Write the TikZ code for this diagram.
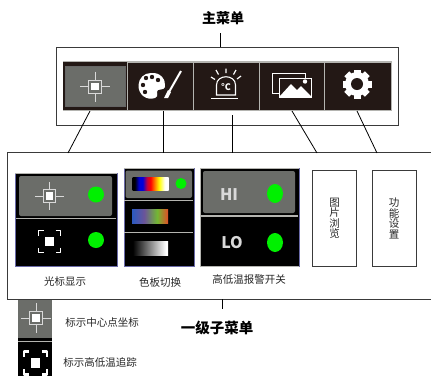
\documentclass[tikz,border=0pt]{standalone}
\usepackage{fontspec}
\setmainfont{Noto Sans CJK SC}
\usetikzlibrary{calc}
\definecolor{ink}{HTML}{231815}
\definecolor{cellgray}{HTML}{6B6D69}
\definecolor{sep}{HTML}{B4B4B0}
\definecolor{edgeblue}{HTML}{6A6AA8}
\definecolor{dotgreen}{HTML}{00F000}
\definecolor{framec}{HTML}{3A3A3A}
\definecolor{specA}{rgb}{0.18,0.35,0.75}
\definecolor{specB}{rgb}{0.42,0.33,0.60}
\definecolor{specC}{rgb}{0.45,0.72,0.20}
\definecolor{specD}{rgb}{0.85,0.33,0.15}
\pgfdeclarehorizontalshading{rainbowbar}{100bp}{color(0bp)=(black);color(28bp)=(black);color(34bp)=(blue!85!black);color(39bp)=(blue!85!black);color(45bp)=(purple);color(50bp)=(red);color(56bp)=(orange);color(62bp)=(yellow);color(70bp)=(white);color(100bp)=(white)}
\pgfdeclarehorizontalshading{specbar}{100bp}{color(0bp)=(specA);color(26bp)=(specA);color(42bp)=(specB);color(60bp)=(specC);color(74bp)=(specD);color(100bp)=(specD)}
\pgfdeclarehorizontalshading{graybar}{100bp}{color(0bp)=(black);color(26bp)=(black);color(72bp)=(white);color(100bp)=(white)}
\tikzset{
  frameline/.style={draw=framec,line width=1pt},
  conn/.style={draw=black,line width=.8pt},
  cell/.style={fill=ink,draw=sep,line width=.9pt},
  blackpanel/.style={fill=black,draw=edgeblue,line width=.9pt},
  divider/.style={draw=sep,line width=1.4pt},
  greendot/.style={fill=dotgreen,draw=none},
  captext/.style={inner sep=0pt,font=\fontsize{10.5}{11}\selectfont,text=black!85},
  headline/.style={inner sep=0pt,font=\fontsize{14}{15}\selectfont\bfseries},
  plainbox/.style={draw=framec,line width=1pt,fill=white,anchor=north west,minimum width=44pt,minimum height=96.5pt,inner sep=0pt,align=center,font=\fontsize{10.5}{10.5}\selectfont,text=black!85},
  iconthin/.style={draw=white!85!black,line width=.8pt},
  hilo/.style={inner sep=0pt,text=white!85!black,font=\fontsize{16}{17}\selectfont\bfseries},
}
\newcommand{\crosshair}[4]{% x,y,scale,box line width
  \begin{scope}[shift={(#1,#2)},scale=#3]
    \draw[iconthin] (-15,0)--(-7,0) (7,0)--(15,0) (0,-15)--(0,-7) (0,7)--(0,15);
    \draw[iconthin,line width=#4] (-6.5,-6.5) rectangle (6.5,6.5);
    \fill[white] (-3.8,-3.8) rectangle (3.8,3.8);
  \end{scope}}
\newcommand{\tracker}[4]{% x,y,scale,line width
  \begin{scope}[shift={(#1,#2)},scale=#3]
    \draw[white,line width=#4,line join=round] (-11,-6)--(-11,-11)--(-6,-11) (6,-11)--(11,-11)--(11,-6) (11,6)--(11,11)--(6,11) (-6,11)--(-11,11)--(-11,6);
    \fill[white] (-4.5,-4.5) rectangle (4.5,4.5);
  \end{scope}}
\begin{document}
\begin{tikzpicture}[x=1pt,y=-1pt]
\useasboundingbox (0,0) rectangle (431,376);
% main menu
\node[headline] (maintitle) at (223,18) {主菜单};
\node[frameline,minimum width=342pt,minimum height=78pt,inner sep=0pt,anchor=north west] (mainframe) at (56,47) {};
\coordinate (titlefoot) at (220.7,33);
\coordinate (framehead) at (220.7,47);
\draw[conn] (titlefoot)--(framehead);
\fill[ink] (63,61) rectangle (392,111);
\foreach \n/\a/\b in {m2/127/193,m3/193/259,m4/259/324,m5/324/391}{
  \node[cell,anchor=north west,minimum width=\b pt-\a pt,minimum height=48pt,inner sep=0pt] (\n) at (\a,62) {};
}
\node[fill=cellgray,draw=black!60,line width=.8pt,anchor=north west,minimum width=60pt,minimum height=40pt,inner sep=0pt] (m1) at (65,66) {};
\draw[sep,line width=.9pt] (63,61.5)--(392,61.5) (63,110.5)--(392,110.5);
\crosshair{95}{86.5}{1}{.9pt}
% palette
\fill[white] (151,73) .. controls (161,72) and (166,80) .. (165,87)
  .. controls (164,90) and (160,89) .. (158,90) .. controls (155,92) and (160,96) .. (155,98)
  .. controls (146,101) and (138,94) .. (138.5,85) .. controls (139,78) and (144,73) .. (151,73) -- cycle;
\foreach \p/\q in {143/85,146/78,152/77,158/80,145/92}{\fill[ink] (\p,\q) circle (2.2);}
\draw[white,line width=2pt] (181,71)--(169,92);
\fill[white] (168,90) -- (171,92) -- (168,98) -- (164,98) -- cycle;
% alarm
\draw[white,line width=1.1pt] (216.5,95)--(216.5,85) .. controls (216.5,74) and (235.5,74) .. (235.5,85) -- (235.5,95) -- cycle;
\draw[white,line width=1.4pt] (211,98.5)--(238,98.5);
\draw[white,line width=1.2pt] (226,68.5)--(226,73) (216,70)--(218.5,74.5) (236,70)--(233.5,74.5) (211,77)--(215,79.5) (241,76)--(237,79);
\node[inner sep=0pt,text=white,font=\fontsize{9}{9}\selectfont\bfseries] (alarmtext) at (226,87) {°C};
% images
\draw[white,line width=1pt] (279,93)--(272,93)--(272,73.5)--(305,73.5)--(305,78);
\draw[white,line width=1.4pt] (279.5,78.5) rectangle (311.5,97);
\fill[white] (280,96) -- (291,84) -- (297,90) -- (301,86) -- (311,96) -- cycle;
\fill[white] (305,81.5) circle (2.2);
% gear
\begin{scope}[shift={(357,84)}]
  \foreach \r in {0,45,...,315}{\fill[white,rotate=\r] (-3.5,-14.5) rectangle (3.5,-8);}
  \fill[white] (0,0) circle (12);
  \fill[ink] (0,0) circle (6);
\end{scope}
% submenu frame
\draw[frameline] (431,152.5)--(7,152.5)--(7,299)--(431,299);
\coordinate (s1) at (68,153);
\coordinate (s2) at (163,153);
\coordinate (s3) at (232,153);
\coordinate (s4) at (317,153);
\coordinate (s5) at (377,153);
\coordinate (a1) at (90,111);
\coordinate (a2) at (163,111);
\coordinate (a3) at (232,115);
\coordinate (a4) at (292,111);
\coordinate (a5) at (357,111);
\foreach \i in {1,...,5}{\draw[conn] (a\i)--(s\i);}
\coordinate (subb) at (222,299);
\coordinate (subt) at (222,309);
\draw[conn] (subb)--(subt);
% panel 1
\node[blackpanel,anchor=north west,minimum width=102pt,minimum height=93pt,inner sep=0pt] (p1) at (15,173) {};
\draw[sep,line width=.9pt] (15,173)--(117,173);
\fill[cellgray,rounded corners=2pt] (19,176) rectangle (112,216);
\draw[divider] (16,218.5)--(116,218.5);
\crosshair{49.5}{196}{.95}{1.2pt}
\tracker{49.5}{241.5}{1}{1.6pt}
\fill[greendot] (96,194.5) circle (8);
\fill[greendot] (96,240) circle (8);
\node[captext] (c1) at (65,282) {光标显示};
% panel 2
\node[blackpanel,anchor=north west,minimum width=70pt,minimum height=98pt,inner sep=0pt] (p2) at (123.5,168) {};
\draw[sep,line width=.9pt] (123.5,168)--(193.5,168);
\fill[cellgray,rounded corners=2pt] (125.5,170.5) rectangle (192,198);
\draw[divider] (124,200.5)--(193,200.5) (124,232.5)--(193,232.5);
\shade[shading=rainbowbar] (132.5,177) rectangle (168.5,190);
\shade[shading=specbar] (132,209) rectangle (168,223);
\shade[shading=graybar] (132,241.5) rectangle (168,255);
\fill[greendot] (181,183.5) circle (5.5);
\node[captext] (c2) at (160,282) {色板切换};
% panel 3
\node[blackpanel,anchor=north west,minimum width=99pt,minimum height=98pt,inner sep=0pt] (p3) at (200,168) {};
\draw[sep,line width=.9pt] (200,266)--(200,168)--(299,168) (200,266)--(299,266);
\fill[cellgray,rounded corners=2pt] (203,171) rectangle (295,213);
\draw[divider] (201,216)--(298,216);
\node[hilo] (hi) at (229,194.5) {HI};
\node[hilo] (lo) at (232,243) {LO};
\fill[greendot] (275,193.5) ellipse (8 and 9.5);
\fill[greendot] (275,242.5) ellipse (8 and 9.5);
\node[captext] (c3) at (249,280) {高低温报警开关};
% plain boxes
\node[plainbox] (b1) at (312,169.5) {图\\片\\浏\\览};
\node[plainbox] (b2) at (371.5,169.5) {功\\能\\设\\置};
% legend
\node[fill=cellgray,anchor=north west,minimum width=34pt,minimum height=39pt,inner sep=0pt] (l1) at (18,299.5) {};
\fill[black] (18,338) rectangle (52,341);
\node[fill=black,anchor=north west,minimum width=34pt,minimum height=35pt,inner sep=0pt] (l2) at (18,341) {};
\draw[sep,line width=.9pt] (18,341)--(52,341);
\crosshair{36}{318}{1}{1.6pt}
\tracker{35.5}{363}{1.05}{2.6pt}
\node[captext] (t1) at (102,322) {标示中心点坐标};
\node[captext] (t2) at (100,362) {标示高低温追踪};
\node[headline,font=\fontsize{14.5}{15}\selectfont\bfseries] (subtitle) at (217,328) {一级子菜单};
\end{tikzpicture}
\end{document}
